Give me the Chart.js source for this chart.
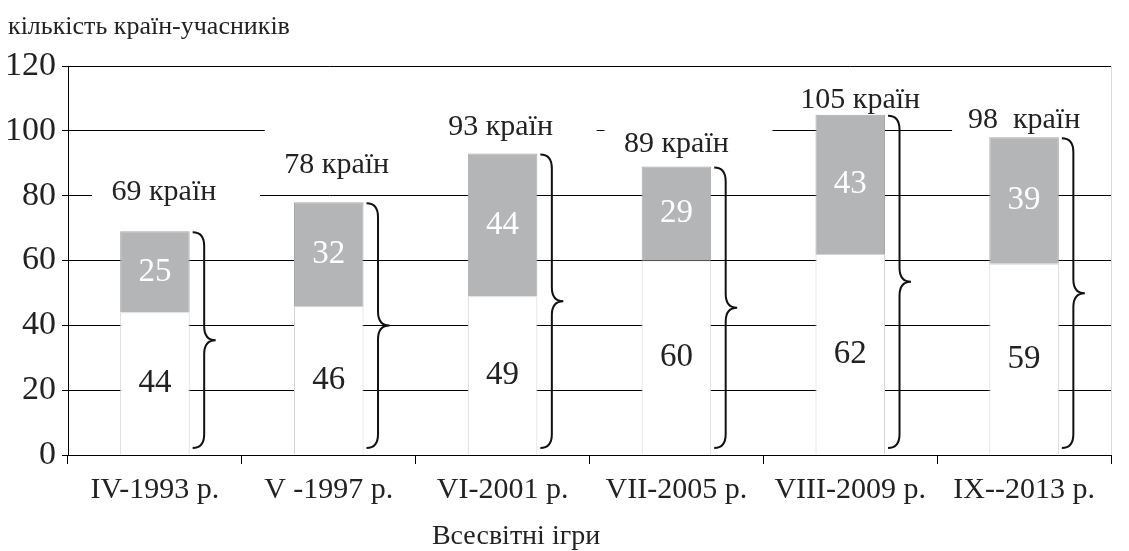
<!DOCTYPE html>
<html>
<head>
<meta charset="utf-8">
<script src="https://cdn.jsdelivr.net/npm/chart.js@4.4.0/dist/chart.umd.min.js"></script>
<style>
  body { margin: 0; background: #fff; }
  #wrap { width: 1129px; height: 551px; position: relative; }
</style>
</head>
<body>
<div id="wrap"><canvas id="myChart"></canvas></div>
<script>
// Всесвітні ігри та кількість країн-учасників
const games = ['IV-1993 р.', 'V -1997 р.', 'VI-2001 р.', 'VII-2005 р.', 'VIII-2009 р.', 'IX--2013 р.'];
const lowerPart = [44, 46, 49, 60, 62, 59];
const upperPart = [25, 32, 44, 29, 43, 39];
const totals = [69, 78, 93, 89, 105, 98];
const totalLabels = ['69 країн', '78 країн', '93 країн', '89 країн', '105 країн', '98  країн'];
const yTicks = [0, 20, 40, 60, 80, 100, 120];
const yTitle = 'кількість країн-учасників';
const xTitle = 'Всесвітні ігри';

// where the total labels sit: px above the bar top, px to the side
const labelLift = [39, 37, 26, 22, 15, 17];
const labelShift = [9, 8, -2, 0, 10, 0];

const serif = "'Liberation Serif', 'Times New Roman', serif";
Chart.defaults.font.family = serif;
Chart.defaults.color = '#222';

function drawBrace(ctx, x, top, bottom, w) {
    const mid = (top + bottom) / 2;
    const r = Math.min(14, (bottom - top) / 6);
    const xm = x + w / 2;
    ctx.beginPath();
    ctx.moveTo(x, top);
    ctx.quadraticCurveTo(xm, top, xm, top + r);
    ctx.lineTo(xm, mid - r);
    ctx.quadraticCurveTo(xm, mid, x + w, mid);
    ctx.quadraticCurveTo(xm, mid, xm, mid + r);
    ctx.lineTo(xm, bottom - r);
    ctx.quadraticCurveTo(xm, bottom, x, bottom);
    ctx.stroke();
}

const extras = {
    id: 'extras',
    beforeDatasetsDraw(chart) {
        // white label boxes hide the grid lines behind the totals
        const ctx = chart.ctx;
        const area = chart.chartArea;
        const bars = chart.getDatasetMeta(1).data;
        ctx.save();
        ctx.fillStyle = '#fff';
        bars.forEach((bar, i) => {
            const cx = bar.x + labelShift[i];
            const cy = bar.y - labelLift[i];
            const top = Math.max(cy - 36, area.top + 2);
            ctx.fillRect(cx - 72, top, 168, cy + 29 - top);
        });
        ctx.restore();
    },
    afterDatasetsDraw(chart) {
        const ctx = chart.ctx;
        const y = chart.scales.y;
        const area = chart.chartArea;
        ctx.save();

        // right border of the plot
        ctx.strokeStyle = '#d9d9d9';
        ctx.lineWidth = 1;
        ctx.beginPath();
        ctx.moveTo(area.right + 0.5, area.top);
        ctx.lineTo(area.right + 0.5, area.bottom);
        ctx.stroke();

        ctx.textAlign = 'center';
        ctx.textBaseline = 'middle';
        ctx.font = '33px ' + serif;

        // values inside the bars
        [0, 1].forEach(ds => {
            chart.getDatasetMeta(ds).data.forEach((bar, i) => {
                ctx.fillStyle = ds === 0 ? '#222' : '#fff';
                const v = ds === 0 ? lowerPart[i] : upperPart[i];
                ctx.fillText(String(v), bar.x, (bar.y + bar.base) / 2);
            });
        });

        // totals above the bars
        ctx.fillStyle = '#222';
        ctx.font = '30px ' + serif;
        chart.getDatasetMeta(1).data.forEach((bar, i) => {
            ctx.fillText(totalLabels[i], bar.x + labelShift[i], bar.y - labelLift[i]);
        });

        // curly braces to the right of each bar
        ctx.strokeStyle = '#111';
        ctx.lineWidth = 2;
        chart.getDatasetMeta(1).data.forEach((bar, i) => {
            const x0 = bar.x + bar.width / 2 + 3;
            const top = y.getPixelForValue(totals[i]) + 1;
            const bottom = y.getPixelForValue(0) - 7;
            drawBrace(ctx, x0, top, bottom, 23);
        });
        ctx.restore();
    },
    afterDraw(chart) {
        // axis captions
        const ctx = chart.ctx;
        ctx.save();
        ctx.fillStyle = '#222';
        ctx.textBaseline = 'middle';
        ctx.font = '26px ' + serif;
        ctx.textAlign = 'left';
        ctx.fillText(yTitle, 8, 27);
        ctx.font = '28px ' + serif;
        ctx.textAlign = 'center';
        ctx.fillText(xTitle, 516, 537);
        ctx.restore();
    }
};

const ctx = document.getElementById('myChart').getContext('2d');
new Chart(ctx, {
    type: 'bar',
    data: {
        labels: games,
        datasets: [{
            label: 'lower',
            data: lowerPart,
            backgroundColor: '#ffffff',
            borderColor: '#d4d4d4',
            borderWidth: 1,
            barPercentage: 0.4,
            categoryPercentage: 1.0
        }, {
            label: 'upper',
            data: upperPart,
            backgroundColor: '#b4b5b7',
            borderColor: '#a7a8aa',
            borderWidth: 1,
            barPercentage: 0.4,
            categoryPercentage: 1.0
        }]
    },
    plugins: [extras],
    options: {
        responsive: true,
        maintainAspectRatio: false,
        animation: false,
        layout: { padding: { top: 66, right: 18, left: 0, bottom: 0 } },
        plugins: {
            legend: { display: false },
            tooltip: { enabled: false },
            title: { display: false }
        },
        scales: {
            x: {
                stacked: true,
                offset: true,
                grid: { display: true, drawOnChartArea: false, tickLength: 9, color: '#000', offset: true },
                border: { color: '#000' },
                ticks: { font: { size: 30 }, color: '#222', padding: 8, maxRotation: 0 },
                afterFit(scale) { scale.height = 96; }
            },
            y: {
                stacked: true,
                min: 0,
                max: 120,
                afterBuildTicks(scale) { scale.ticks = yTicks.map(v => ({ value: v })); },
                grid: { color: '#000', tickLength: 6 },
                border: { color: '#000' },
                ticks: { font: { size: 34 }, color: '#222', padding: 6 },
                afterFit(scale) { scale.width = 68; }
            }
        }
    }
});
</script>
</body>
</html>
